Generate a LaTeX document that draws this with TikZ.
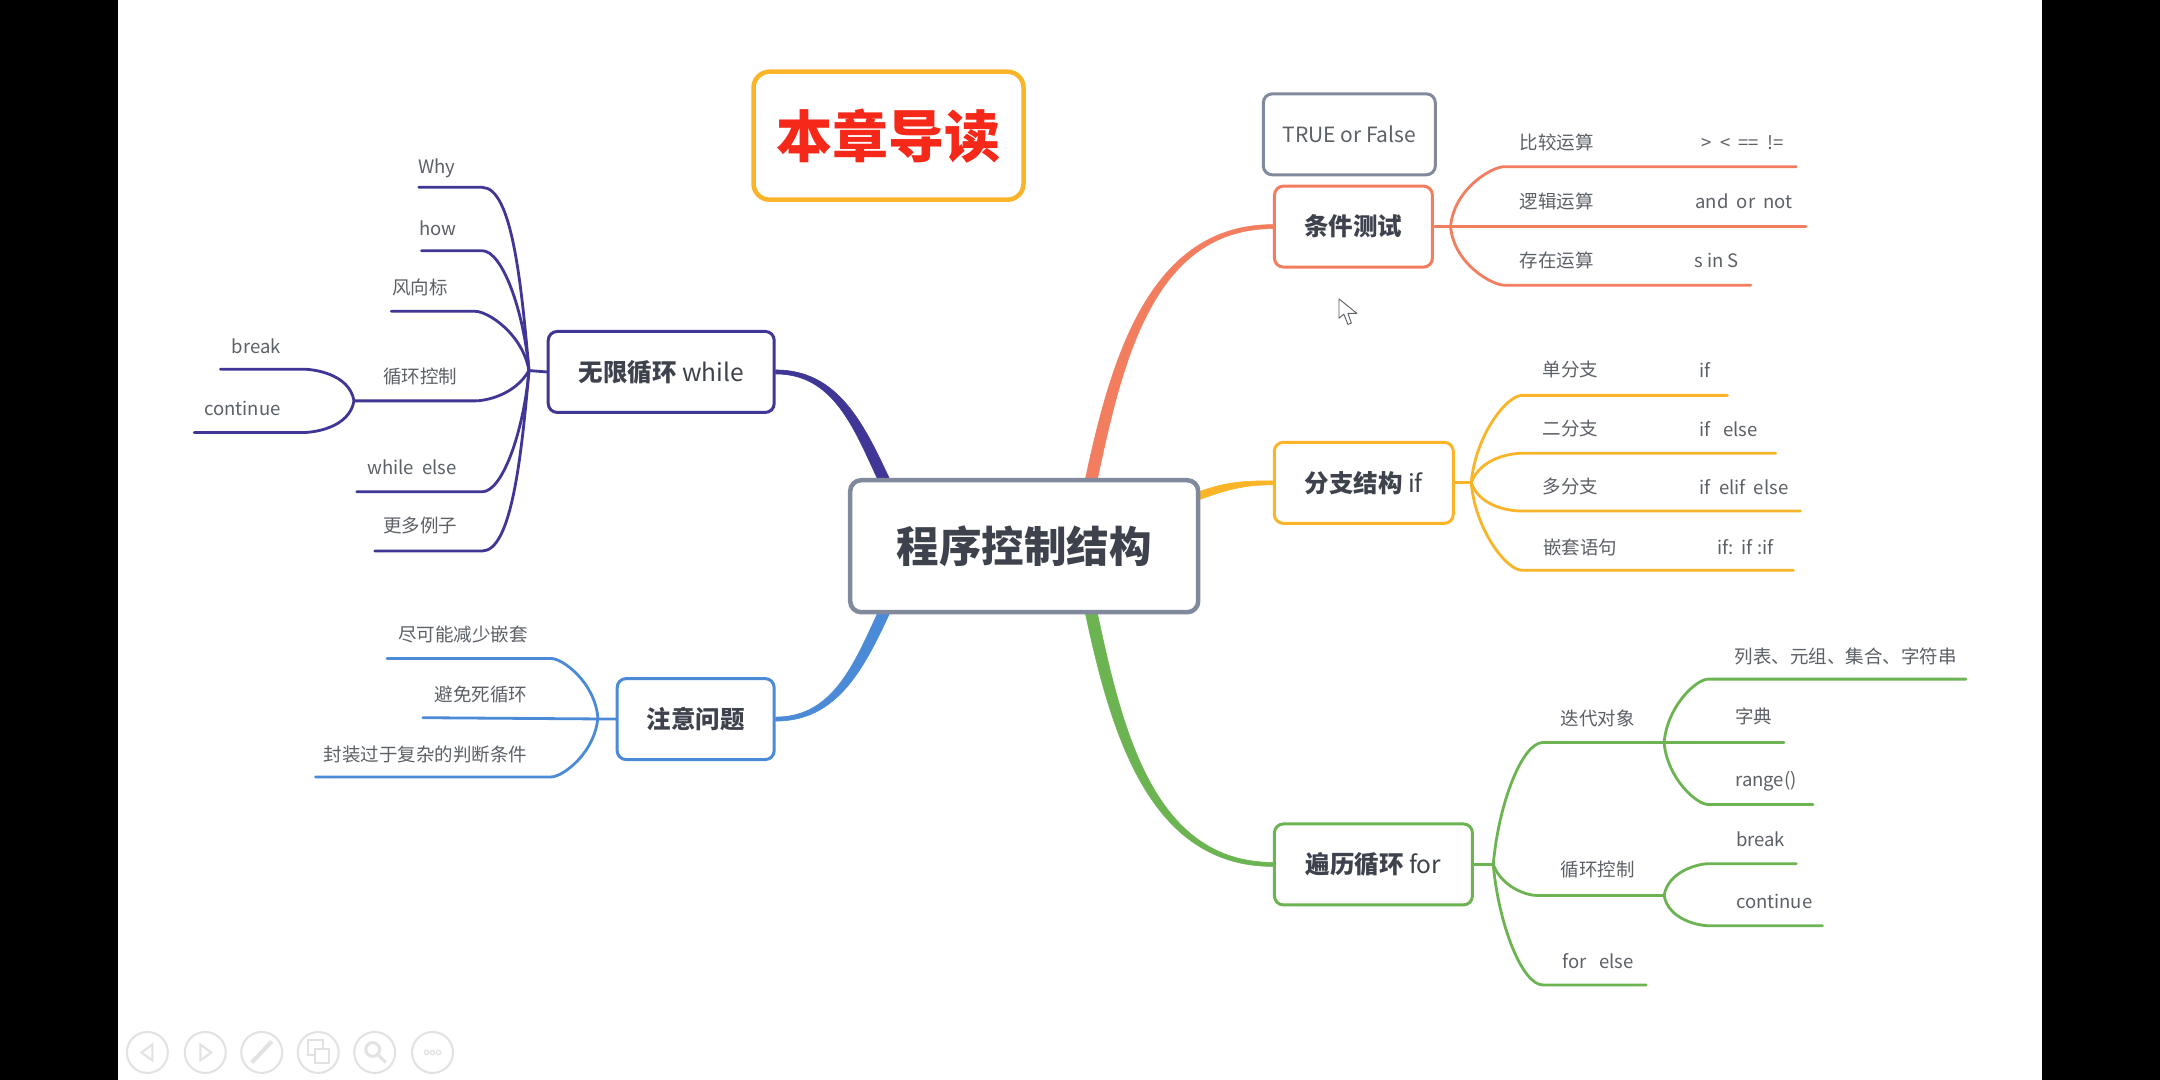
\documentclass[tikz,border=0pt]{standalone}
\usepackage{fontspec}
\setmainfont{Noto Sans CJK SC}
\usepackage{xcolor}
\definecolor{ColText}{RGB}{92,96,103}
\definecolor{ColDark}{RGB}{62,66,76}
\definecolor{ColSlate}{RGB}{128,138,156}
\definecolor{ColCoral}{RGB}{243,125,95}
\definecolor{ColAmber}{RGB}{250,180,40}
\definecolor{ColGreen}{RGB}{108,180,82}
\definecolor{ColIndigo}{RGB}{64,54,150}
\definecolor{ColBlue}{RGB}{74,138,214}
\definecolor{ColRed}{RGB}{245,40,25}
\definecolor{ColGhost}{RGB}{226,226,226}
\usepackage{tikz}
\usetikzlibrary{backgrounds}
\tikzstyle{Topic}=[draw,fill=white,rounded corners=9pt,line width=3pt,
    text=ColDark,minimum height=81pt,inner sep=0pt,
    font=\fontsize{24.5}{28}\selectfont]
\tikzstyle{Leaf}=[text=ColText,inner sep=0pt,yshift=-0.5pt,
    font=\fontsize{18.5}{22}\selectfont]
\tikzstyle{Twig}=[line width=2.8pt,line cap=round,
    in looseness=0.4,out looseness=1.2]
\tikzstyle{Limb}=[draw,fill,line width=0.6pt]
\tikzstyle{Button}=[draw=ColGhost,circle,line width=2pt,minimum size=41pt,
    inner sep=0pt]
\tikzstyle{Glyph}=[draw=ColGhost,line width=2pt]
\begin{document}
\begin{tikzpicture}[x=1.37755pt,y=-1.37755pt]
    \useasboundingbox(0,0)rectangle(1568,784);
    % boxes
    \node[Topic,draw=ColSlate,line width=4.5pt,minimum width=348pt,
        minimum height=132pt,rounded corners=11pt,
        font=\fontsize{42.5}{48}\selectfont](Center)at(743.5,396.5)
        {\textbf{程序控制结构}};
    \node[Topic,draw=ColAmber,line width=4.5pt,minimum width=270pt,
        minimum height=128pt,rounded corners=16pt,text=ColRed,
        font=\fontsize{56}{60}\selectfont](Title)at(645,98.5)
        {\textbf{本章导读}};
    \node[Topic,draw=ColSlate,minimum width=172pt,
        font=\fontsize{21}{24}\selectfont,text=ColText](Truth)at(979.5,97.5)
        {TRUE or False};
    \node[Topic,draw=ColCoral,minimum width=158pt](Cond)at(982.5,164.5)
        {\textbf{条件测试}};
    \node[Topic,draw=ColAmber,minimum width=179pt](Branch)at(990,350.5)
        {\textbf{分支结构} if};
    \node[Topic,draw=ColGreen,minimum width=198pt](ForLoop)at(997,627.5)
        {\textbf{遍历循环} for};
    \node[Topic,draw=ColIndigo,minimum width=226pt](WhileLoop)at(480,270)
        {\textbf{无限循环} while};
    \node[Topic,draw=ColBlue,minimum width=157pt](Notes)at(505,522)
        {\textbf{注意问题}};
    % condition labels
    \node[Leaf](CmpText)at(1130,103){比较运算};
    \node[Leaf](CmpOps)at(1265,103){>\ \ <\ \ ==\ \ !=};
    \node[Leaf](LogicText)at(1130,146){逻辑运算};
    \node[Leaf](LogicOps)at(1266,146){and\ \ or\ \ not};
    \node[Leaf](MemberText)at(1130,189){存在运算};
    \node[Leaf](MemberOps)at(1246,189){s in S};
    % branch labels
    \node[Leaf](OneText)at(1140,268){单分支};
    \node[Leaf](OneCode)at(1238,268){if};
    \node[Leaf](TwoText)at(1140,311){二分支};
    \node[Leaf](TwoCode)at(1255,311){if\ \ \ else};
    \node[Leaf](MultiText)at(1140,353){多分支};
    \node[Leaf](MultiCode)at(1266,353){if\ \ elif\ \ else};
    \node[Leaf](NestText)at(1147,397){嵌套语句};
    \node[Leaf](NestCode)at(1267,397){if:\ \ if :if};
    % for labels
    \node[Leaf](IterText)at(1160,521){迭代对象};
    \node[Leaf](SeqText)at(1340,476){列表、元组、集合、字符串};
    \node[Leaf](DictText)at(1273,520){字典};
    \node[Leaf](RangeText)at(1282,567){range()};
    \node[Leaf](ForCtlText)at(1160,631){循环控制};
    \node[Leaf](ForBreak)at(1278,609){break};
    \node[Leaf](ForCont)at(1288,654){continue};
    \node[Leaf](ForElse)at(1160,697){for\ \ \ else};
    % while labels
    \node[Leaf](WhyText)at(317,122){Why};
    \node[Leaf](HowText)at(318,165){how};
    \node[Leaf](VaneText)at(305,208){风向标};
    \node[Leaf](WhileCtlText)at(305,273){循环控制};
    \node[Leaf](WhileBreak)at(186,251){break};
    \node[Leaf](WhileCont)at(176,296){continue};
    \node[Leaf](WhileElse)at(299,339){while\ \ else};
    \node[Leaf](MoreText)at(305,381){更多例子};
    % notes labels
    \node[Leaf](NestLess)at(336,460){尽可能减少嵌套};
    \node[Leaf](DeadLoop)at(349,504){避免死循环};
    \node[Leaf](WrapCond)at(309,547){封装过于复杂的判断条件};
    % free ends
    \coordinate(CondJoin)at(1053,164.5);
    \coordinate(CmpEnd)at(1304,121);
    \coordinate(LogicEnd)at(1311,164.5);
    \coordinate(MemberEnd)at(1271,207);
    \coordinate(BranchJoin)at(1068,350.5);
    \coordinate(OneEnd)at(1254,287);
    \coordinate(TwoEnd)at(1289,329);
    \coordinate(MultiEnd)at(1307,371);
    \coordinate(NestEnd)at(1302,414);
    \coordinate(ForJoin)at(1084,627.5);
    \coordinate(IterJoin)at(1208,539);
    \coordinate(DictEnd)at(1295,539);
    \coordinate(SeqEnd)at(1427,493);
    \coordinate(RangeEnd)at(1316,584);
    \coordinate(ForCtlJoin)at(1208,650);
    \coordinate(ForBreakEnd)at(1304,627);
    \coordinate(ForContEnd)at(1323,672);
    \coordinate(ForElseEnd)at(1195,715);
    \coordinate(WhileJoin)at(384,269);
    \coordinate(WhyEnd)at(304,136);
    \coordinate(HowEnd)at(306,182);
    \coordinate(VaneEnd)at(284,226);
    \coordinate(WhileCtlJoin)at(257,291);
    \coordinate(WhileBreakEnd)at(160,268);
    \coordinate(WhileContEnd)at(141,314);
    \coordinate(WhileElseEnd)at(259,357);
    \coordinate(MoreEnd)at(272,400);
    \coordinate(NotesJoin)at(434,521);
    \coordinate(NestLessEnd)at(281,478);
    \coordinate(DeadLoopEnd)at(307,521);
    \coordinate(WrapCondEnd)at(229,564);
    \coordinate(CenterNE)at(792,349);
    \coordinate(CenterSE)at(792,444);
    \coordinate(CenterE)at(870,360);
    \coordinate(CenterNW)at(642,349);
    \coordinate(CenterSW)at(642,444);
    \begin{scope}[on background layer]
        \fill[white](0,0)rectangle(1568,784);
        \fill[black](0,0)rectangle(86,784);
        \fill[black](1482,0)rectangle(1568,784);
        % main limbs
        \draw[Limb,ColCoral]([xshift=-6pt]CenterNE)to[out=78,in=180]
            ([yshift=2pt]Cond.west)--([yshift=-2pt]Cond.west)to[out=180,in=78]
            ([xshift=6pt]CenterNE)--cycle;
        \draw[Limb,ColAmber]([yshift=4pt]CenterE)to[out=20,in=180]
            ([yshift=2pt]Branch.west)--([yshift=-2pt]Branch.west)to[out=180,in=20]
            ([yshift=-4pt]CenterE)--cycle;
        \draw[Limb,ColGreen]([xshift=-6pt]CenterSE)to[out=-78,in=180]
            ([yshift=-2pt]ForLoop.west)--([yshift=2pt]ForLoop.west)to[out=180,in=-78]
            ([xshift=6pt]CenterSE)--cycle;
        \draw[Limb,ColIndigo]([xshift=-6pt]CenterNW)to[out=115,in=0]
            ([yshift=-2pt]WhileLoop.east)--([yshift=2pt]WhileLoop.east)to[out=0,in=115]
            ([xshift=6pt]CenterNW)--cycle;
        \draw[Limb,ColBlue]([xshift=-6pt]CenterSW)to[out=-115,in=0]
            ([yshift=2pt]Notes.east)--([yshift=-2pt]Notes.east)to[out=0,in=-115]
            ([xshift=6pt]CenterSW)--cycle;
    \end{scope}
    % condition twigs
    \draw[Twig,ColCoral](Cond.east)--(CondJoin)--(LogicEnd);
    \draw[Twig,ColCoral](CondJoin)to[out=85,in=180](1092,121)--(CmpEnd);
    \draw[Twig,ColCoral](CondJoin)to[out=-85,in=180](1092,207)--(MemberEnd);
    % branch twigs
    \draw[Twig,ColAmber](Branch.east)--(BranchJoin);
    \draw[Twig,ColAmber](BranchJoin)to[out=85,in=180](1105,287)--(OneEnd);
    \draw[Twig,ColAmber](BranchJoin)to[out=70,in=180](1105,329)--(TwoEnd);
    \draw[Twig,ColAmber](BranchJoin)to[out=-70,in=180](1105,371)--(MultiEnd);
    \draw[Twig,ColAmber](BranchJoin)to[out=-85,in=180](1105,414)--(NestEnd);
    % for twigs
    \draw[Twig,ColGreen](ForLoop.east)--(ForJoin);
    \draw[Twig,ColGreen](ForJoin)to[out=85,in=180](1120,539)--(DictEnd);
    \draw[Twig,ColGreen](IterJoin)to[out=85,in=180](1240,493)--(SeqEnd);
    \draw[Twig,ColGreen](IterJoin)to[out=-85,in=180](1240,584)--(RangeEnd);
    \draw[Twig,ColGreen](ForJoin)to[out=-70,in=180](1115,650)--(ForCtlJoin);
    \draw[Twig,ColGreen](ForCtlJoin)to[out=80,in=180](1240,627)--(ForBreakEnd);
    \draw[Twig,ColGreen](ForCtlJoin)to[out=-80,in=180](1240,672)--(ForContEnd);
    \draw[Twig,ColGreen](ForJoin)to[out=-85,in=180](1120,715)--(ForElseEnd);
    % while twigs
    \draw[Twig,ColIndigo](WhileLoop.west)--(WhileJoin);
    \draw[Twig,ColIndigo](WhileJoin)to[out=95,in=0](350,136)--(WhyEnd);
    \draw[Twig,ColIndigo](WhileJoin)to[out=95,in=0](350,182)--(HowEnd);
    \draw[Twig,ColIndigo](WhileJoin)to[out=100,in=0](345,226)--(VaneEnd);
    \draw[Twig,ColIndigo](WhileJoin)to[out=-120,in=0](345,291)--(WhileCtlJoin);
    \draw[Twig,ColIndigo](WhileCtlJoin)to[out=100,in=0](220,268)--(WhileBreakEnd);
    \draw[Twig,ColIndigo](WhileCtlJoin)to[out=-100,in=0](220,314)--(WhileContEnd);
    \draw[Twig,ColIndigo](WhileJoin)to[out=-95,in=0](350,357)--(WhileElseEnd);
    \draw[Twig,ColIndigo](WhileJoin)to[out=-95,in=0](350,400)--(MoreEnd);
    % notes twigs
    \draw[Twig,ColBlue](Notes.west)--(DeadLoopEnd);
    \draw[Twig,ColBlue](NotesJoin)to[out=95,in=0](400,478)--(NestLessEnd);
    \draw[Twig,ColBlue](NotesJoin)to[out=-95,in=0](400,564)--(WrapCondEnd);
    % mouse pointer
    \draw[ColText,fill=white,line width=0.9pt,line join=round](972,217)--(972,231)
        --(975.5,228)--(978.5,235.5)--(981,234.5)--(978.5,227.5)--(985,227.5)--cycle;
    % slide show buttons
    \node[Button](BtnBack)at(107,764){};
    \node[Button](BtnNext)at(149,764){};
    \node[Button](BtnPen)at(190,764){};
    \node[Button](BtnSlides)at(231,764){};
    \node[Button](BtnZoom)at(272,764){};
    \node[Button](BtnMore)at(314,764){};
    \draw[Glyph]([xshift=5pt,yshift=8pt]BtnBack.center)--([xshift=-6pt]BtnBack.center)
        --([xshift=5pt,yshift=-8pt]BtnBack.center)--cycle;
    \draw[Glyph]([xshift=-5pt,yshift=8pt]BtnNext.center)--([xshift=6pt]BtnNext.center)
        --([xshift=-5pt,yshift=-8pt]BtnNext.center)--cycle;
    \draw[Glyph,line width=4pt]([xshift=-10pt,yshift=-10pt]BtnPen.center)
        --([xshift=10pt,yshift=11pt]BtnPen.center);
    \draw[Glyph]([xshift=-10pt,yshift=-3pt]BtnSlides.center)rectangle
        ([xshift=5pt,yshift=12pt]BtnSlides.center);
    \draw[Glyph,fill=white]([xshift=-3pt,yshift=-11pt]BtnSlides.center)rectangle
        ([xshift=11pt,yshift=3pt]BtnSlides.center);
    \draw[Glyph,line width=3pt]([xshift=-2pt,yshift=3pt]BtnZoom.center)circle(5);
    \draw[Glyph,line width=3pt]([xshift=4pt,yshift=-3pt]BtnZoom.center)
        --([xshift=11pt,yshift=-10pt]BtnZoom.center);
    \draw[Glyph,line width=1.2pt]([xshift=-6pt]BtnMore.center)circle(1.6);
    \draw[Glyph,line width=1.2pt](BtnMore.center)circle(1.6);
    \draw[Glyph,line width=1.2pt]([xshift=6pt]BtnMore.center)circle(1.6);
\end{tikzpicture}
\end{document}
